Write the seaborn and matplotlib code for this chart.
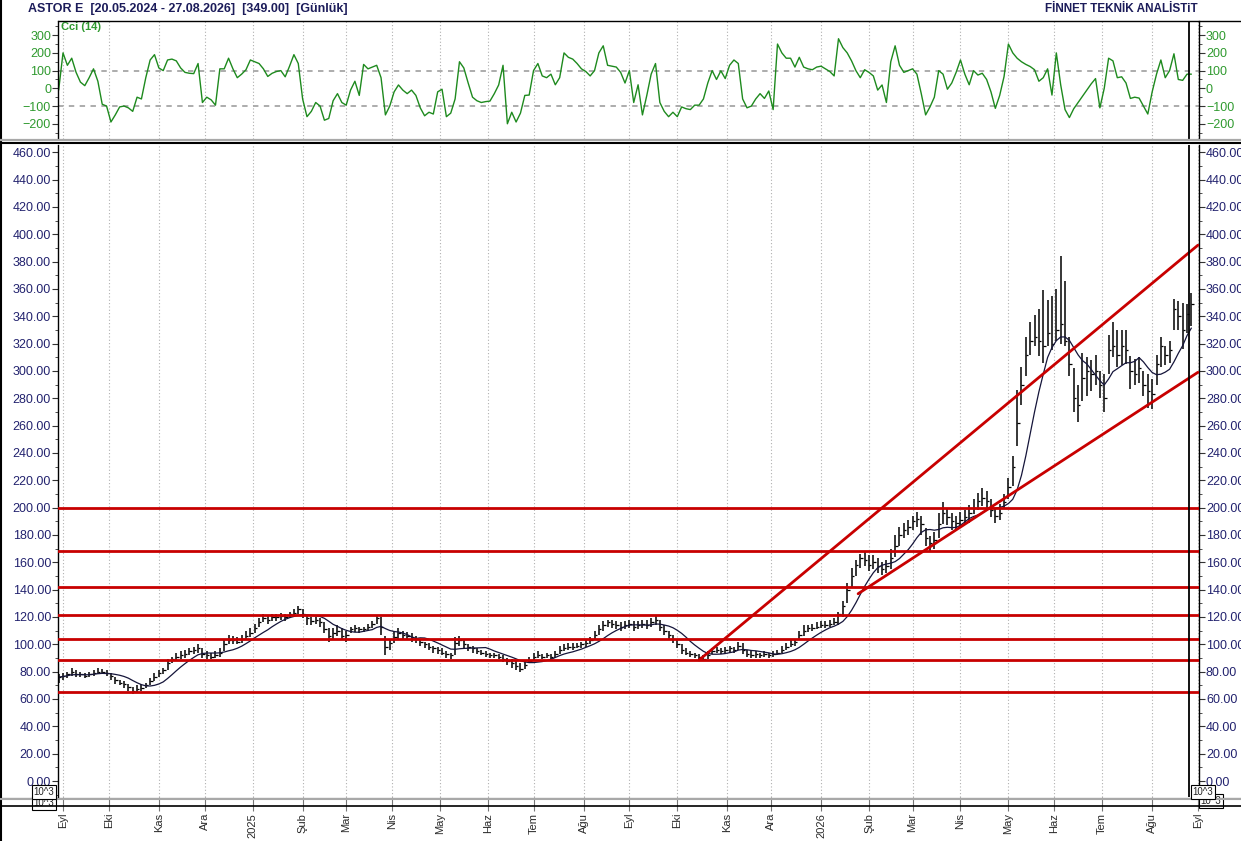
import numpy as np
import pandas as pd
import matplotlib
matplotlib.use("Agg")
import matplotlib.pyplot as plt
from matplotlib.lines import Line2D
from matplotlib.ticker import MultipleLocator, FixedLocator, FormatStrFormatter
import seaborn as sns

# one bar per second trading day, 29.08.2024 .. 27.08.2026
highs = [
    78, 79, 80, 83, 81, 80, 79, 80, 81, 83,
    82, 81, 79, 76, 74, 73, 71, 69, 70, 71,
    72, 75, 79, 81, 83, 89, 91, 94, 95, 96,
    97, 98, 100, 97, 95, 94, 95, 97, 103, 107,
    106, 105, 107, 110, 112, 115, 119, 122, 121, 122,
    122, 123, 122, 124, 126, 128, 126, 121, 120, 120,
    119, 116, 112, 112, 114, 112, 110, 113, 114, 113,
    113, 115, 117, 121, 120, 106, 104, 110, 112, 110,
    109, 108, 106, 104, 102, 101, 99, 98, 97, 95,
    94, 105, 106, 103, 100, 99, 97, 96, 95, 94,
    94, 93, 92, 90, 89, 88, 86, 88, 91, 94,
    95, 93, 94, 93, 95, 99, 100, 101, 101, 101,
    102, 103, 105, 110, 114, 117, 118, 118, 117, 116,
    117, 118, 117, 117, 118, 118, 119, 121, 118, 114,
    110, 107, 103, 100, 97, 95, 94, 93, 92, 95,
    97, 98, 97, 98, 99, 98, 102, 101, 96, 95,
    95, 94, 95, 94, 95, 96, 99, 101, 103, 104,
    110, 114, 114, 115, 116, 117, 117, 118, 119, 124,
    132, 145, 156, 162, 166, 168, 165, 165, 163, 160,
    162, 170, 180, 186, 189, 191, 194, 197, 194, 185,
    179, 182, 196, 204, 200, 196, 194, 197, 198, 202,
    206, 211, 214, 212, 206, 200, 203, 210, 222, 238,
    286, 303, 325, 336, 341, 345, 359, 352, 355, 360,
    384, 366, 325, 302, 290, 313, 310, 308, 312, 300,
    298, 326, 336, 330, 330, 330, 311, 309, 310, 300,
    298, 294, 312, 325, 318, 322, 353, 351, 350, 349, 357,
]
lows = [
    72, 74, 75, 77, 76, 76, 75, 76, 77, 78,
    78, 77, 74, 71, 70, 68, 66, 64, 65, 66,
    68, 70, 73, 76, 78, 81, 86, 88, 89, 90,
    92, 93, 94, 90, 89, 89, 90, 91, 95, 100,
    100, 100, 101, 103, 105, 108, 113, 116, 115, 117,
    117, 118, 117, 119, 120, 122, 119, 114, 114, 115,
    113, 108, 102, 104, 106, 103, 102, 108, 109, 108,
    109, 110, 112, 115, 107, 92, 96, 101, 104, 104,
    103, 102, 101, 99, 97, 96, 94, 93, 92, 90,
    89, 92, 99, 97, 95, 94, 93, 92, 91, 90,
    90, 89, 87, 85, 83, 81, 80, 82, 86, 88,
    90, 89, 90, 89, 90, 93, 95, 96, 96, 97,
    97, 98, 100, 103, 107, 110, 113, 112, 111, 110,
    111, 112, 110, 111, 112, 111, 113, 114, 110, 107,
    104, 101, 97, 93, 92, 91, 90, 89, 88, 89,
    93, 94, 93, 94, 94, 94, 96, 93, 91, 90,
    90, 90, 91, 90, 91, 92, 94, 96, 98, 99,
    104, 106, 109, 110, 111, 112, 112, 113, 114, 114,
    120, 130, 141, 150, 156, 157, 154, 155, 152, 151,
    152, 155, 164, 172, 178, 180, 184, 186, 180, 172,
    168, 170, 178, 188, 187, 184, 184, 185, 187, 189,
    195, 198, 201, 199, 193, 189, 191, 200, 206, 216,
    245, 275, 296, 312, 318, 311, 306, 318, 315, 322,
    320, 318, 296, 270, 263, 278, 282, 285, 290, 280,
    270, 298, 310, 303, 304, 305, 287, 290, 291, 282,
    273, 272, 290, 303, 304, 306, 330, 330, 316, 328, 333,
]
closes = [
    76, 77, 78, 80, 78, 78, 77, 78, 79, 80,
    80, 79, 77, 74, 72, 71, 69, 66, 67, 68,
    70, 73, 76, 79, 81, 86, 89, 91, 92, 93,
    95, 96, 97, 93, 92, 91, 92, 94, 100, 103,
    103, 102, 104, 106, 108, 112, 116, 119, 118, 120,
    120, 121, 120, 122, 123, 126, 122, 119, 117, 118,
    116, 111, 106, 108, 110, 106, 107, 111, 112, 111,
    111, 113, 115, 119, 113, 98, 101, 105, 108, 107,
    106, 105, 104, 102, 100, 98, 97, 96, 94, 93,
    92, 101, 103, 100, 98, 97, 95, 94, 93, 92,
    92, 91, 89, 88, 86, 84, 82, 85, 88, 91,
    92, 91, 92, 91, 93, 96, 97, 98, 98, 99,
    100, 101, 103, 107, 111, 114, 116, 115, 114, 113,
    114, 115, 113, 114, 115, 114, 116, 118, 113, 110,
    107, 104, 100, 96, 94, 93, 92, 91, 89, 92,
    95, 96, 95, 96, 97, 96, 99, 96, 93, 92,
    93, 92, 93, 92, 93, 94, 96, 98, 100, 102,
    107, 110, 112, 112, 113, 114, 114, 115, 116, 122,
    128, 140, 150, 158, 163, 162, 158, 160, 157, 155,
    157, 163, 172, 180, 184, 186, 190, 192, 188, 178,
    174, 176, 188, 196, 193, 190, 189, 191, 193, 196,
    200, 205, 207, 205, 198, 194, 196, 204, 215, 230,
    262, 290, 312, 322, 325, 322, 318, 328, 320, 330,
    334, 322, 305, 280, 275, 295, 300, 298, 300, 290,
    280, 315, 318, 312, 318, 315, 300, 298, 302, 290,
    285, 283, 305, 318, 312, 315, 345, 340, 330, 342, 349,
]
cci = [
    -10, 200, 130, 170, 90, 35, 15, 60, 110, 40,
    -90, -100, -190, -150, -105, -100, -110, -130, -50, -60,
    60, 160, 190, 115, 100, 160, 165, 155, 115, 90,
    85, 83, 140, -80, -50, -65, -95, 110, 110, 170,
    110, 60, 80, 105, 160, 150, 140, 110, 67, 85,
    95, 100, 65, 125, 190, 140, -60, -160, -130, -80,
    -100, -180, -170, -70, -30, -80, -95, -10, 40, -40,
    135, 110, 120, 130, 60, -150, -100, -20, 19, -10,
    -30, -10, -40, -110, -155, -135, -145, -20, -5, -160,
    -140, -60, 150, 115, 30, -50, -70, -80, -75, -72,
    -30, 19, 130, -200, -135, -190, -140, -40, -38, 100,
    140, 70, 60, 80, 20, 60, 200, 175, 165, 140,
    110, 95, 70, 100, 200, 240, 130, 125, 120, 90,
    30, 100, -80, 20, -150, -40, 80, 140, -80, -130,
    -160, -135, -160, -105, -115, -120, -95, -95, -60, 30,
    100, 50, 99, 55, 130, 160, 140, -60, -110, -100,
    -60, -30, -57, -15, -120, 250, 200, 170, 170, 120,
    175, 120, 110, 105, 120, 125, 110, 95, 70, 280,
    230, 200, 155, 100, 60, 105, 90, 70, -10, 19,
    -80, 150, 240, 130, 90, 100, 110, 80, -30, -150,
    -105, -50, 100, 80, -5, 30, 90, 160, 80, 20,
    100, 75, 85, 50, -20, -113, -40, 66, 250, 200,
    170, 150, 135, 123, 105, 40, 60, 110, -38, 200,
    20, -120, -165, -115, -80, -45, -10, 25, 55, -110,
    0, 170, 155, 60, 65, 30, -57, -50, -55, -100,
    -145, -20, 80, 160, 60, 100, 195, 50, 45, 80, 80,
]
assert len(highs) == len(lows) == len(closes) == len(cci) == 261

month_labels = ["Eyl", "Eki", "Kas", "Ara", "2025", "Şub", "Mar", "Nis", "May",
                "Haz", "Tem", "Ağu", "Eyl", "Eki", "Kas", "Ara", "2026", "Şub",
                "Mar", "Nis", "May", "Haz", "Tem", "Ağu", "Eyl"]
levels = [199.5, 168, 142, 121.5, 104, 88.6, 65]
upper_dates, upper_prices = ["2025-10-15", "2026-09-01"], [88.5, 392]
lower_dates, lower_prices = ["2026-01-26", "2026-09-01"], [137, 299]

sns.set_style("white")
plt.rcParams["font.family"] = ["Liberation Sans", "DejaVu Sans"]

W, H = 1241, 841
fig = plt.figure(figsize=(W / 100, H / 100), dpi=100)


def fx(px):
    return px / W


def fy(py):
    return 1 - py / H


days = pd.bdate_range("2024-08-29", "2026-09-01")
bar_x = np.arange(len(closes)) * 2
firsts = [i for i in range(1, len(days)) if days[i].month != days[i - 1].month]

ax_c = fig.add_axes([fx(58), fy(139), fx(1199 - 58), (139 - 21) / H])
ax = fig.add_axes([fx(58), fy(797), fx(1199 - 58), (797 - 145) / H])

navy = "#22226e"
green = "#2f9a2f"

# --- CCI panel
df_cci = pd.DataFrame({"x": bar_x, "cci": cci})
sns.lineplot(data=df_cci, x="x", y="cci", ax=ax_c, color="#1e8a1e", lw=1)
for v in (100, -100):
    ax_c.axhline(v, color="#a6a6a6", lw=1.3, ls=(0, (3, 3)), zorder=1)
ax_c.set_ylim(-286, 380)
ax_c.yaxis.set_major_locator(FixedLocator([-200, -100, 0, 100, 200, 300]))
ax_c.yaxis.set_minor_locator(MultipleLocator(50))
ax_c.tick_params(axis="y", which="both", left=True, right=True, labelleft=True,
                 labelright=True, labelsize=9, labelcolor=green, pad=1, color="#333333")
ax_c.tick_params(axis="y", which="major", length=4)
ax_c.tick_params(axis="y", which="minor", length=2.5)
ax_c.tick_params(axis="x", which="both", bottom=False, labelbottom=False)

# --- price panel
ax.vlines(bar_x, lows, highs, color="black", lw=1.1)
ax.hlines(closes, bar_x, bar_x + 1.1, color="black", lw=0.9)
ma = pd.Series(closes).rolling(8, min_periods=1).mean()
sns.lineplot(x=bar_x, y=ma.values, ax=ax, color="#15153a", lw=0.9)

for lv in levels:
    ax.axhline(lv, color="#c80000", lw=2, zorder=3)
for dts, prs in ((upper_dates, upper_prices), (lower_dates, lower_prices)):
    xs = [days.get_loc(pd.Timestamp(d)) for d in dts]
    ax.plot(xs, prs, color="#c80000", lw=2, zorder=3)

ax.set_ylim(-11.7, 465.3)
ax.yaxis.set_major_locator(MultipleLocator(20))
ax.yaxis.set_minor_locator(MultipleLocator(10))
ax.yaxis.set_major_formatter(FormatStrFormatter("%.2f"))
ax.tick_params(axis="y", which="both", left=True, right=True, labelleft=True,
               labelright=True, labelsize=9, labelcolor=navy, pad=1, color="#333333")
ax.tick_params(axis="y", which="major", length=4)
ax.tick_params(axis="y", which="minor", length=2.5)
ax.set_xticks(firsts)
ax.set_xticklabels(month_labels, rotation=90, fontsize=8, color="#2a2a2a")
ax.tick_params(axis="x", which="major", bottom=True, length=10, pad=1.5,
               color="#777777", width=0.8)

for a in (ax_c, ax):
    a.set_xlim(-0.3, 523.5)
    a.set_xlabel("")
    a.set_ylabel("")
    for p in firsts:
        a.axvline(p, color="#b0b0b0", lw=0.8, ls=(0, (1, 2)), zorder=0)
    a.axvline(519, color="black", lw=1.3, zorder=4)
    a.spines["top"].set_visible(False)
    a.spines["bottom"].set_visible(False)
    for s in ("left", "right"):
        a.spines[s].set_color("black")
        a.spines[s].set_linewidth(1)


def hline(y, x0, x1, color, lw, z=5):
    fig.add_artist(Line2D([fx(x0), fx(x1)], [fy(y), fy(y)], color=color, lw=lw,
                          transform=fig.transFigure, zorder=z))


hline(21, 58, 1241, "black", 1)
hline(140.3, 0, 1241, "#a8a8a8", 1.6)
hline(143, 0, 1241, "black", 1.5)
hline(797.6, 0, 1241, "black", 0.8)
hline(799.3, 0, 1241, "#a8a8a8", 1.5)
hline(805.6, 0, 1241, "black", 1.2)
fig.add_artist(Line2D([fx(0.7), fx(0.7)], [0, 1], color="black", lw=1.5,
                      transform=fig.transFigure))

fig.text(fx(28), fy(9), "ASTOR E  [20.05.2024 - 27.08.2026]  [349.00]  [Günlük]",
         fontsize=9, fontweight="bold", color="#1c1c5a", va="center", ha="left")
fig.text(fx(1198), fy(9), "FİNNET TEKNİK ANALİSTiT", fontsize=8.5, fontweight="bold",
         color="#1c1c5a", va="center", ha="right")
fig.text(fx(61), fy(27), "Cci (14)", fontsize=8, fontweight="bold", color=green,
         va="center", ha="left")

box = dict(boxstyle="square,pad=0.2", fc="white", ec="black", lw=0.8)
for bx, by, z in ((44, 803, 1), (1211, 801, 1), (44, 792, 6), (1203, 792, 6)):
    fig.text(fx(bx), fy(by), "10^3", fontsize=7, ha="center", va="center",
             bbox=box, zorder=z, color="#222222")

fig.savefig("out.png", dpi=100, facecolor="white")
